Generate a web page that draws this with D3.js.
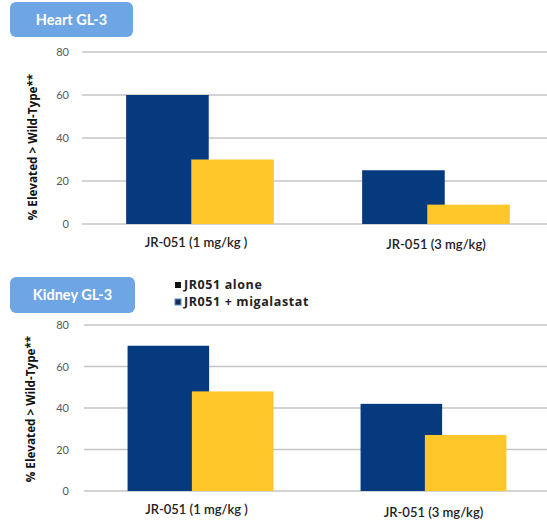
<!DOCTYPE html>
<html>
<head>
<meta charset="utf-8">
<script src="https://cdn.jsdelivr.net/npm/d3@7"></script>
<style>
  html, body { margin: 0; padding: 0; background: #fff; }
  svg { display: block; font-family: Lato, "Open Sans", sans-serif; }
</style>
</head>
<body>
<svg id="chart" width="547" height="528"></svg>
<script>
// Dose groups and series
const categories = ["JR-051 (1 mg/kg )", "JR-051 (3 mg/kg)"];
const series = ["JR051 alone", "JR051 + migalastat"];
const seriesColors = ["#063a7e", "#ffc82a"];

// % of animals with GL-3 elevated above wild-type
const heartAlone = [60, 25];
const heartMigalastat = [30, 9];
const kidneyAlone = [70, 42];
const kidneyMigalastat = [48, 27];

const yTicks = [0, 20, 40, 60, 80];
const yTitle = "% Elevated > Wild-Type**";

const svg = d3.select("#chart");
const W = 547;

const panels = [
  { title: "Heart GL-3", alone: heartAlone, combo: heartMigalastat,
    box: [10, 2, 123, 35], yRange: [224, 52], xRange: [82, 554],
    gridX: 82, labelY: [247, 249], yTitleX: 33, yTitleC: 147 },
  { title: "Kidney GL-3", alone: kidneyAlone, combo: kidneyMigalastat,
    box: [10, 277, 125, 36], yRange: [491, 325], xRange: [84, 550],
    gridX: 84, labelY: [514, 517], yTitleX: 31, yTitleC: 409 }
];

panels.forEach(p => {
  const g = svg.append("g");
  const y = d3.scaleLinear().domain([0, 80]).range(p.yRange);
  const x0 = d3.scaleBand().domain(categories).range(p.xRange).padding(0);
  const bw = x0.bandwidth();
  const barW = bw * 0.35;
  const x1 = d3.scalePoint().domain(series).range([-bw * 0.138, bw * 0.138]);

  // gridlines
  g.selectAll("line.grid").data(yTicks).join("line")
    .attr("x1", p.gridX).attr("x2", W)
    .attr("y1", d => y(d)).attr("y2", d => y(d))
    .attr("stroke", "#c4c4c4").attr("stroke-width", 1.6);

  // y tick labels
  const axis = d3.axisLeft(y).tickValues(yTicks).tickSize(0).tickPadding(0);
  const ag = g.append("g").attr("transform", `translate(69,0)`).call(axis);
  ag.select(".domain").remove();
  ag.selectAll("text").attr("font-size", 11).attr("fill", "#595959")
    .attr("font-family", "Lato, sans-serif");

  // bars: series drawn in order so the second overlaps the first
  const rows = categories.map((c, i) => ({ c, vals: [p.alone[i], p.combo[i]] }));
  series.forEach((s, si) => {
    g.selectAll(null).data(rows).join("rect")
      .attr("x", d => x0(d.c) + bw / 2 + x1(s) - barW / 2)
      .attr("y", d => y(d.vals[si]))
      .attr("width", barW)
      .attr("height", d => y(0) - y(d.vals[si]))
      .attr("fill", seriesColors[si]);
  });

  // category labels
  g.selectAll("text.cat").data(categories).join("text")
    .attr("class", "cat")
    .attr("x", d => x0(d) + bw / 2 - (d === categories[0] ? 4 : 0))
    .attr("y", (d, i) => p.labelY[i])
    .attr("text-anchor", "middle")
    .attr("font-size", 13).attr("font-weight", 600).attr("fill", "#222")
    .text(d => d);

  // y axis title
  g.append("text")
    .attr("transform", `translate(${p.yTitleX},${p.yTitleC}) rotate(-90)`)
    .attr("text-anchor", "middle").attr("dy", "0.35em")
    .attr("font-family", "'Open Sans', sans-serif")
    .attr("font-size", 11.7).attr("font-weight", 700).attr("fill", "#111")
    .text(yTitle);

  // panel title badge
  const [bx, by, bwid, bh] = p.box;
  g.append("rect").attr("x", bx).attr("y", by).attr("width", bwid).attr("height", bh)
    .attr("rx", 6).attr("fill", "#6ea5e5");
  g.append("text").attr("x", bx + bwid / 2).attr("y", by + bh / 2)
    .attr("dy", "0.35em").attr("text-anchor", "middle")
    .attr("font-size", 14.5).attr("font-weight", 700).attr("fill", "#fff")
    .text(p.title);
});

// legend
const legend = svg.append("g").attr("transform", "translate(175,285)");
const legendSwatch = ["#111", "#1b2c55"];
series.forEach((s, i) => {
  const row = legend.append("g").attr("transform", `translate(0,${i * 17})`);
  row.append("rect").attr("x", 0).attr("y", -3).attr("width", 6).attr("height", 6)
    .attr("fill", legendSwatch[i])
    .attr("stroke", i === 1 ? "#4f8fd8" : "none").attr("stroke-width", 1);
  row.append("text").attr("x", 9).attr("y", 0).attr("dy", "0.35em")
    .attr("font-family", "'Open Sans', sans-serif")
    .attr("font-size", 12.5).attr("letter-spacing", 0.6)
    .attr("font-weight", 700).attr("fill", "#222")
    .text(s);
});
</script>
</body>
</html>
